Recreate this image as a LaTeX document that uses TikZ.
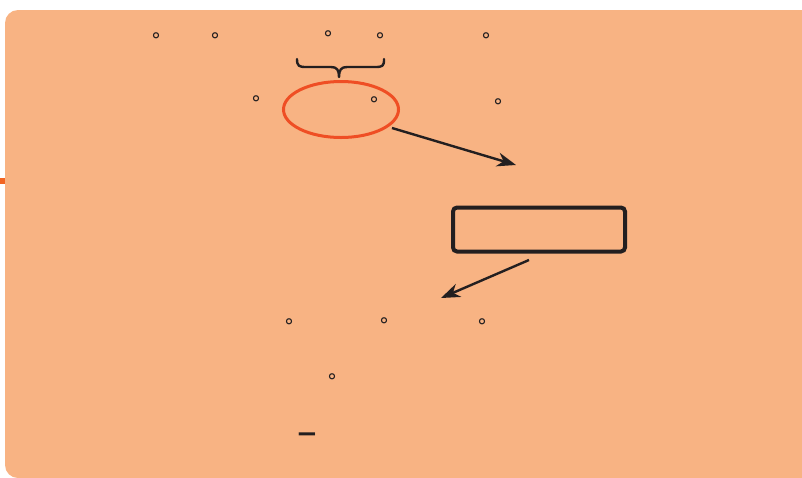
\documentclass[tikz,border=0pt]{standalone}
\usepackage{fontspec}
\newfontfamily\dejavu{DejaVu Sans}
\usetikzlibrary{shapes.geometric,arrows.meta}
\definecolor{panel}{RGB}{248,179,131}
\definecolor{redorange}{RGB}{239,78,36}
\definecolor{taborange}{RGB}{242,101,34}
\definecolor{ink}{RGB}{35,31,32}
\tikzset{
  deg/.style={inner sep=0pt, text=ink, anchor=base, yshift=-11pt, font=\dejavu\fontsize{20}{20}\selectfont},
  arr/.style={draw=ink, line width=2.4pt, -{Stealth[length=19pt,width=14pt,inset=6pt]}},
  ring/.style={ellipse, draw=redorange, line width=3pt, inner sep=0pt},
  framebox/.style={rectangle, draw=ink, line width=4pt, rounded corners=4pt, inner sep=0pt},
  bracepath/.style={draw=ink, line width=2.4pt, line cap=round, line join=round},
}
\begin{document}
\begin{tikzpicture}[x=1pt,y=-1pt]
\useasboundingbox (0,0) rectangle (802,477);
\begin{scope}
\clip (0,0) rectangle (802,477);
\fill[panel, rounded corners=13pt] (5,10) rectangle (830,478);
\fill[taborange] (0,178) rectangle (5,184);
\end{scope}
% degree marks
\node[deg] (d1) at (156,36) {°};
\node[deg] (d2) at (215,36) {°};
\node[deg] (d3) at (328,34) {°};
\node[deg] (d4) at (380,36) {°};
\node[deg] (d5) at (486,36) {°};
\node[deg] (d6) at (256,99) {°};
\node[deg] (d7) at (374,100) {°};
\node[deg] (d8) at (498,102) {°};
\node[deg] (d9) at (289,322) {°};
\node[deg] (d10) at (384,321) {°};
\node[deg] (d11) at (482,322) {°};
\node[deg] (d12) at (332,377) {°};
% minus
\node[inner sep=0pt, text=ink, font=\dejavu\bfseries\fontsize{26}{26}\selectfont] (minus) at (307,438) {−};
% brace
\path[bracepath] (297,59) .. controls (297,66) and (299,67) .. (306,67) -- (331,67)
  .. controls (337,67) and (339,70) .. (339,77)
  .. controls (339,70) and (341,67) .. (347,67) -- (375,67)
  .. controls (383,67) and (384,66) .. (384,59);
% ellipse
\node[ring, minimum width=115pt, minimum height=56pt] (ring) at (341,109.5) {};
% box
\node[framebox, minimum width=172pt, minimum height=44pt] (box) at (539,229.5) {};
% arrows
\coordinate (a1s) at (392,128);
\coordinate (a1e) at (516,165);
\coordinate (a2s) at (529,260);
\coordinate (a2e) at (441,298);
\draw[arr] (a1s) -- (a1e);
\draw[arr] (a2s) -- (a2e);
\end{tikzpicture}
\end{document}
